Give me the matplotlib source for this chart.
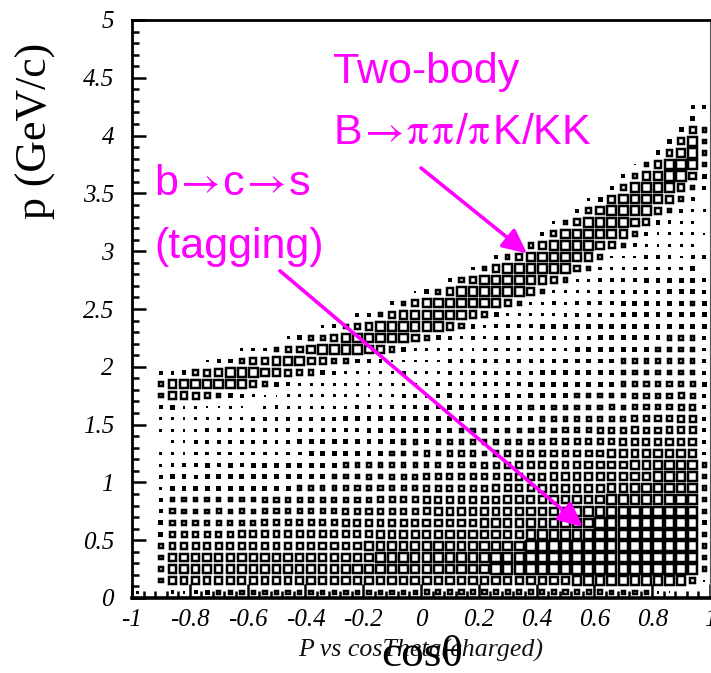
import matplotlib
matplotlib.use("Agg")
import matplotlib.pyplot as plt
from matplotlib.collections import PolyCollection
from matplotlib.ticker import MultipleLocator

# Box side (in image pixels) per cell; rows[0] is p=0-0.1,
# each row has one value for each of the 50 cosTheta bins.
rows = [
 [2,0,0,3,2,3,4,5,5,5,5,5,5,5,5,5,5,5,5,5,5,5,5,5,5,6,6,6,6,6,6,6,6,6,6,6,6,6,6,6,6,5,5,5,5,2,1,0,0,0],
 [0,0,5,9,9,9,9,9,9,9,9,9,9,9,10,10,10,10,10,10,10,10,10,10,10,10,10,10,10,10,10,10,10,10,10,10,10,10,11,11,11,11,11,11,11,11,11,11,7,1],
 [0,0,5,10,10,10,10,10,10,10,10,10,10,10,10,10,10,10,10,11,11,11,11,11,11,11,11,11,11,11,11,12,12,12,12,12,12,12,12,12,12,12,12,12,12,12,12,12,12,5],
 [0,0,5,10,10,10,10,10,10,10,10,10,10,10,10,10,10,10,10,10,10,11,11,11,11,11,11,11,11,11,12,12,12,12,12,12,12,12,12,12,12,12,12,12,12,12,12,12,12,5],
 [0,0,5,8,8,8,8,8,8,8,8,8,8,8,8,8,9,9,9,9,10,10,10,10,11,11,11,11,10,11,11,11,11,11,12,12,12,12,12,12,12,12,12,12,12,12,12,12,12,5],
 [0,0,4,7,7,7,7,7,7,8,8,8,8,8,8,8,8,8,8,8,8,9,9,9,9,9,10,10,10,10,10,10,10,10,11,11,11,11,11,12,12,12,12,12,12,12,12,12,12,5],
 [0,0,4,6,5,6,6,6,6,6,6,7,7,7,7,7,7,7,8,8,8,8,8,8,8,9,9,9,9,9,10,10,10,10,10,10,11,11,11,11,12,12,12,12,12,12,12,12,12,4],
 [0,0,3,6,5,5,5,6,5,6,5,6,6,6,6,6,6,6,7,7,7,7,7,7,7,8,9,9,9,9,9,9,9,9,10,10,10,10,11,11,11,11,11,12,12,12,12,12,11,5],
 [0,0,3,5,5,5,5,5,5,5,5,6,6,6,6,6,6,6,6,6,6,7,7,7,7,8,8,8,8,8,8,8,9,9,9,9,10,10,10,10,10,11,11,11,11,11,11,12,11,5],
 [0,0,2,4,4,4,4,4,4,4,4,4,4,4,5,5,5,5,5,6,5,6,6,6,6,7,7,7,7,7,7,8,8,8,8,9,9,9,9,9,9,10,10,11,11,11,11,11,11,5],
 [0,0,3,4,4,3,4,4,4,4,4,4,4,4,4,4,4,5,5,5,6,5,6,6,6,7,7,7,7,7,7,7,8,8,8,8,9,9,9,9,9,9,10,10,10,11,11,11,11,5],
 [0,0,2,3,3,3,4,3,4,3,4,4,4,4,4,4,4,4,5,5,5,5,5,5,5,5,6,6,6,6,7,7,7,8,8,8,8,8,8,9,9,9,9,10,10,11,11,11,11,5],
 [0,0,2,3,2,3,3,3,3,3,3,3,3,3,3,4,4,4,4,4,4,4,5,5,5,6,5,6,6,6,5,6,7,7,7,7,8,8,8,8,8,9,9,9,9,10,10,10,10,3],
 [0,0,0,2,2,3,3,3,3,3,3,3,3,3,4,4,4,4,4,4,4,4,4,5,5,4,5,5,5,5,5,5,6,6,6,6,7,7,7,7,7,7,8,8,8,8,9,9,9,3],
 [0,0,2,2,2,2,3,3,3,3,3,3,3,3,3,3,3,3,3,3,4,4,4,4,4,4,4,4,5,5,5,4,5,5,5,6,5,6,6,6,7,7,7,8,7,7,8,8,8,3],
 [0,0,2,2,2,2,2,2,2,2,3,3,3,3,3,3,3,3,4,4,4,4,4,4,4,4,4,4,4,4,4,4,4,4,4,5,5,5,5,6,6,6,6,7,7,7,7,8,8,3],
 [0,0,3,4,2,2,1,1,2,1,0,2,3,2,2,2,2,2,2,3,3,3,3,3,3,4,3,4,4,4,4,4,4,4,5,4,5,5,5,5,5,6,5,6,6,6,6,7,7,3],
 [0,0,5,10,9,8,7,5,4,3,2,1,1,2,2,2,2,2,2,2,2,2,2,3,3,3,3,4,3,3,3,3,4,3,4,4,4,4,5,5,5,5,5,6,6,6,6,7,6,3],
 [0,0,5,10,11,11,11,11,11,10,8,6,4,3,2,2,2,2,2,2,2,2,2,2,2,2,3,3,3,3,3,3,3,3,4,4,4,4,4,4,4,4,5,5,6,6,6,6,6,4],
 [0,0,3,3,4,6,8,9,11,11,11,10,10,8,7,6,4,3,2,2,2,2,2,3,2,2,2,3,3,3,3,3,3,3,3,4,4,4,4,4,4,4,5,5,5,5,5,5,5,3],
 [0,0,0,0,0,0,2,3,4,6,8,9,10,11,11,9,8,6,5,4,3,3,1,2,2,2,2,3,3,3,3,3,3,3,3,3,3,4,4,4,4,4,5,5,5,5,5,5,5,3],
 [0,0,0,0,0,0,0,0,0,2,3,3,5,7,8,10,11,11,11,11,10,9,6,4,2,2,2,3,2,2,3,3,3,3,3,3,3,3,4,4,4,4,4,4,4,5,5,5,5,3],
 [0,0,0,0,0,0,0,0,0,0,0,0,0,2,4,5,6,8,10,11,11,11,11,11,9,6,4,3,2,3,2,3,3,3,3,3,3,3,3,3,4,4,4,4,4,4,5,5,5,3],
 [0,0,0,0,0,0,0,0,0,0,0,0,0,0,0,0,2,3,5,7,9,11,11,11,11,11,11,9,6,4,2,3,3,3,3,4,4,4,4,4,4,4,4,4,4,4,4,4,4,4],
 [0,0,0,0,0,0,0,0,0,0,0,0,0,0,0,0,0,0,0,3,3,5,8,10,11,11,11,11,11,9,7,4,2,2,2,2,2,3,3,3,3,3,4,4,4,4,4,4,4,4],
 [0,0,0,0,0,0,0,0,0,0,0,0,0,0,0,0,0,0,0,0,0,0,3,5,8,10,11,11,11,11,11,10,8,5,2,2,3,2,3,3,3,3,4,4,4,4,4,4,5,4],
 [0,0,0,0,0,0,0,0,0,0,0,0,0,0,0,0,0,0,0,0,0,0,0,0,1,4,6,9,11,11,11,11,11,11,9,5,2,2,2,2,3,3,3,3,3,3,4,4,4,3],
 [0,0,0,0,0,0,0,0,0,0,0,0,0,0,0,0,0,0,0,0,0,0,0,0,0,0,0,3,6,9,11,11,11,11,11,10,8,5,2,2,3,3,3,3,4,4,4,4,4,3],
 [0,0,0,0,0,0,0,0,0,0,0,0,0,0,0,0,0,0,0,0,0,0,0,0,0,0,0,0,0,3,5,9,11,11,11,11,11,11,8,5,3,2,2,3,3,3,3,3,4,0],
 [0,0,0,0,0,0,0,0,0,0,0,0,0,0,0,0,0,0,0,0,0,0,0,0,0,0,0,0,0,0,0,3,5,8,11,11,11,11,11,10,6,2,2,2,3,3,3,2,3,3],
 [0,0,0,0,0,0,0,0,0,0,0,0,0,0,0,0,0,0,0,0,0,0,0,0,0,0,0,0,0,0,0,0,0,0,6,9,11,11,11,11,10,8,5,3,2,2,2,2,2,0],
 [0,0,0,0,0,0,0,0,0,0,0,0,0,0,0,0,0,0,0,0,0,0,0,0,0,0,0,0,0,0,0,0,0,0,0,3,7,11,11,11,11,11,10,6,3,2,2,2,2,1],
 [0,0,0,0,0,0,0,0,0,0,0,0,0,0,0,0,0,0,0,0,0,0,0,0,0,0,0,0,0,0,0,0,0,0,0,0,2,5,8,11,11,11,11,10,8,4,3,2,2,0],
 [0,0,0,0,0,0,0,0,0,0,0,0,0,0,0,0,0,0,0,0,0,0,0,0,0,0,0,0,0,0,0,0,0,0,0,0,0,0,3,7,10,11,11,11,11,8,5,3,2,2],
 [0,0,0,0,0,0,0,0,0,0,0,0,0,0,0,0,0,0,0,0,0,0,0,0,0,0,0,0,0,0,0,0,0,0,0,0,0,0,0,2,4,9,11,11,11,11,9,5,3,0],
 [0,0,0,0,0,0,0,0,0,0,0,0,0,0,0,0,0,0,0,0,0,0,0,0,0,0,0,0,0,0,0,0,0,0,0,0,0,0,0,0,0,3,7,11,11,11,11,9,5,3],
 [0,0,0,0,0,0,0,0,0,0,0,0,0,0,0,0,0,0,0,0,0,0,0,0,0,0,0,0,0,0,0,0,0,0,0,0,0,0,0,0,0,0,3,6,10,11,12,12,9,4],
 [0,0,0,0,0,0,0,0,0,0,0,0,0,0,0,0,0,0,0,0,0,0,0,0,0,0,0,0,0,0,0,0,0,0,0,0,0,0,0,0,0,0,0,1,5,9,12,12,12,5],
 [0,0,0,0,0,0,0,0,0,0,0,0,0,0,0,0,0,0,0,0,0,0,0,0,0,0,0,0,0,0,0,0,0,0,0,0,0,0,0,0,0,0,0,0,0,4,8,11,12,5],
 [0,0,0,0,0,0,0,0,0,0,0,0,0,0,0,0,0,0,0,0,0,0,0,0,0,0,0,0,0,0,0,0,0,0,0,0,0,0,0,0,0,0,0,0,0,0,4,8,11,5],
 [0,0,0,0,0,0,0,0,0,0,0,0,0,0,0,0,0,0,0,0,0,0,0,0,0,0,0,0,0,0,0,0,0,0,0,0,0,0,0,0,0,0,0,0,0,0,0,4,8,5],
 [0,0,0,0,0,0,0,0,0,0,0,0,0,0,0,0,0,0,0,0,0,0,0,0,0,0,0,0,0,0,0,0,0,0,0,0,0,0,0,0,0,0,0,0,0,0,0,0,4,0],
 [0,0,0,0,0,0,0,0,0,0,0,0,0,0,0,0,0,0,0,0,0,0,0,0,0,0,0,0,0,0,0,0,0,0,0,0,0,0,0,0,0,0,0,0,0,0,0,0,3,3],
]
x_ticks = [-1, -0.8, -0.6, -0.4, -0.2, 0, 0.2, 0.4, 0.6, 0.8, 1]
x_labels = ["-1", "-0.8", "-0.6", "-0.4", "-0.2", "0", "0.2", "0.4", "0.6", "0.8", "1"]
y_ticks = [0, 0.5, 1, 1.5, 2, 2.5, 3, 3.5, 4, 4.5, 5]
y_labels = ["0", "0.5", "1", "1.5", "2", "2.5", "3", "3.5", "4", "4.5", "5"]
x_bin, y_bin = 0.04, 0.1
MAG = "#ff00ff"

serif = "Liberation Serif"
plt.rcParams["font.family"] = serif
plt.rcParams["font.style"] = "italic"
plt.rcParams["font.size"] = 18
plt.rcParams["mathtext.fontset"] = "stix"

W, H = 711, 673
fig = plt.figure(figsize=(W / 100, H / 100), dpi=100)
L, R, T, B = 132, 710, 20, 598
ax = fig.add_axes([L / W, (H - B) / H, (R - L) / W, (B - T) / H])
ax.set_xlim(-1, 1)
ax.set_ylim(0, 5)
xpx = 2 / (R - L)
ypx = 5 / (B - T)
LW = 2.5  # pixels

hollow, solid = [], []
for r, row in enumerate(rows):
    for c, v in enumerate(row):
        if v == 0:
            continue
        out = v + 0.9 * min(1.0, max(0.0, (10 - v) / 5))   # drawn outer side
        cx = -1 + (c + 0.5) * x_bin
        cy = (r + 0.5) * y_bin
        is_hollow = out > LW * 2
        side = out - LW if is_hollow else out
        hx, hy = side * xpx / 2, side * ypx / 2
        poly = [(cx - hx, cy - hy), (cx + hx, cy - hy), (cx + hx, cy + hy), (cx - hx, cy + hy)]
        (hollow if is_hollow else solid).append(poly)
ax.add_collection(PolyCollection(solid, facecolors="k", edgecolors="none", zorder=2))
ax.add_collection(PolyCollection(hollow, facecolors="none", edgecolors="k",
                                 linewidths=LW * 0.72, joinstyle="miter", zorder=2))

ax.set_xticks(x_ticks)
ax.set_xticklabels(x_labels)
ax.set_yticks(y_ticks)
ax.set_yticklabels(y_labels)
ax.xaxis.set_minor_locator(MultipleLocator(0.04))
ax.yaxis.set_minor_locator(MultipleLocator(0.1))
ax.tick_params(which="major", direction="in", length=10, width=1.8, top=False, right=False, labelsize=18)
ax.tick_params(which="minor", direction="in", length=5, width=1.8, top=False, right=False)
ax.tick_params(axis="x", which="major", pad=8)
ax.tick_params(axis="y", which="major", pad=13)
ax.spines["left"].set_linewidth(2.0)
ax.spines["bottom"].set_linewidth(2.6)
ax.spines["top"].set_linewidth(2.0)
ax.spines["right"].set_linewidth(0.8)
ax.spines["right"].set_color("#555555")

def fx(p):
    return p / W
def fy(p):
    return 1 - p / H

fig.text(fx(421), fy(650), "P vs cosTheta(charged)", family=serif, style="italic",
         fontsize=18.6, ha="center", va="center", color="#111111")
fig.text(fx(422), fy(655), "cos\u03b8", family=serif, style="normal", fontsize=32.5, ha="center", va="center", color="k")
fig.text(fx(36), fy(131), "p (GeV/c)", family=serif, style="normal", fontsize=31.5, rotation=90,
         ha="center", va="center", color="k")

sans = "Liberation Sans"
kw = dict(family=sans, style="normal", fontsize=31, color=MAG, ha="left", va="center")
ARR = r"\hspace{-0.12}\rightarrow\hspace{-0.12}"
PI = r"\mathrm{\pi}"
fig.text(fx(333), fy(72), "Two-body", **kw)
fig.text(fx(333), fy(133), "B$" + ARR + PI + r"\hspace{0.1}" + PI + r"\hspace{0.1}$/$" + PI + r"\hspace{0.1}$K/KK", **kw)
fig.text(fx(154), fy(184), "b$" + ARR + "$c$" + ARR + "$s", **kw)
fig.text(fx(154), fy(247), "(tagging)", **kw)

arrow = dict(arrowstyle="-|>,head_length=1.05,head_width=0.5", color=MAG, lw=2.6,
             shrinkA=0, shrinkB=0, mutation_scale=14)
ax.annotate("", xy=(0.367, 2.98), xytext=(0.0, 3.72), arrowprops=arrow, zorder=5)
ax.annotate("", xy=(0.56, 0.614), xytext=(-0.488, 2.83), arrowprops=arrow, zorder=5)

# Tick labels already carry the italic style; STIX math glyphs need the upright default when drawn.
plt.rcParams["font.style"] = "normal"
fig.savefig("out.png", dpi=100)
